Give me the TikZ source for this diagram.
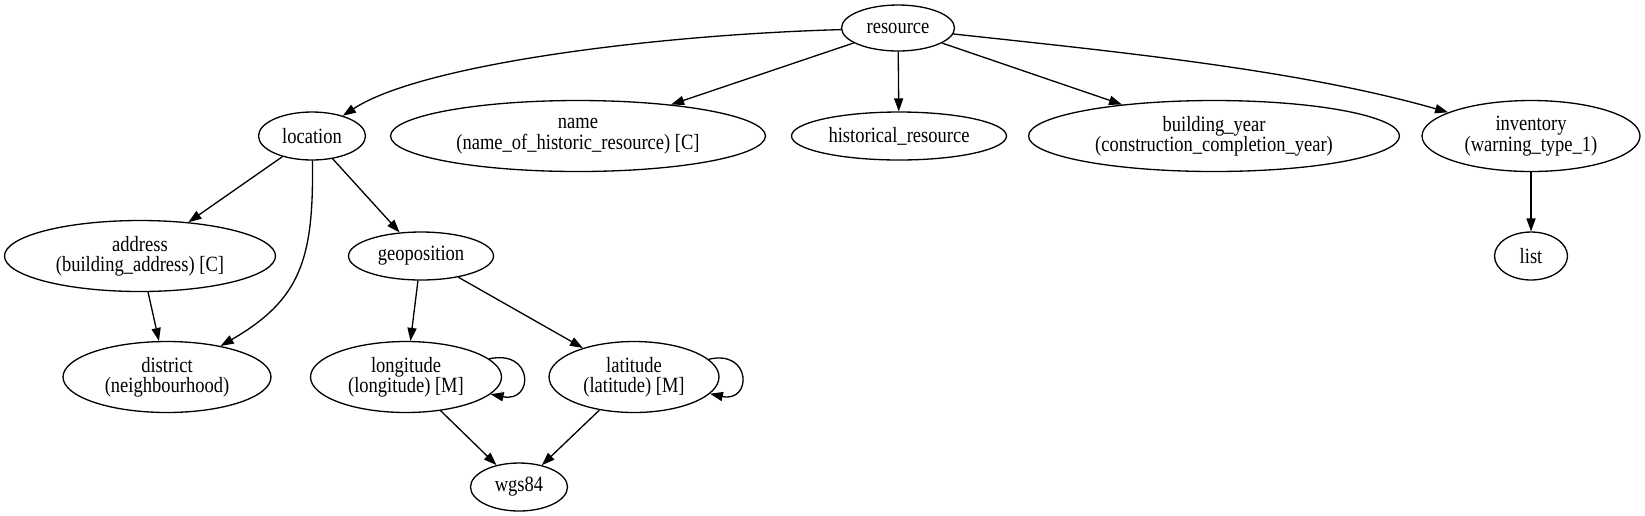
\documentclass[tikz,border=0pt]{standalone}
\usepackage{fontspec}
\setmainfont{Liberation Serif}[FakeStretch=0.85]
\usepackage{tikz}
\usetikzlibrary{arrows.meta, shapes.geometric}
\definecolor{mainBlack}{gray}{0}

\begin{document}
\begin{tikzpicture}[x=0.02cm, y=0.02cm, >={Triangle[length=7.4pt, width=5.2pt]},
    entity/.style={draw=mainBlack, ellipse, inner sep=0pt, line width=0.75pt, align=center, font=\fontsize{12.4}{11.6}\selectfont},
    link/.style={->, line width=0.75pt, mainBlack}]
    \useasboundingbox (0,0) rectangle (1645,-515);

    % Root
    \node[entity, minimum width=2.26cm, minimum height=0.92cm] (resource) at (898,-28) {resource};

    % First level
    \node[entity, minimum width=2.14cm, minimum height=0.96cm] (location) at (312,-136) {location};
    \node[entity, minimum width=7.5cm, minimum height=1.42cm] (name) at (578,-136) {name\\(name\_of\_historic\_resource) [C]};
    \node[entity, minimum width=4.3cm, minimum height=0.96cm] (histres) at (899,-136) {historical\_resource};
    \node[entity, minimum width=7.42cm, minimum height=1.42cm] (year) at (1214,-136) {building\_year\\(construction\_completion\_year)};
    \node[entity, minimum width=4.36cm, minimum height=1.42cm] (inventory) at (1531,-136) {inventory\\(warning\_type\_1)};

    % Second level
    \node[entity, minimum width=5.42cm, minimum height=1.42cm] (address) at (140,-256) {address\\(building\_address) [C]};
    \node[entity, minimum width=2.9cm, minimum height=0.96cm] (geopos) at (421,-256) {geoposition};
    \node[entity, minimum width=1.46cm, minimum height=0.96cm] (list) at (1531,-256) {list};

    % Third level
    \node[entity, minimum width=4.16cm, minimum height=1.42cm] (district) at (167,-377) {district\\(neighbourhood)};
    \node[entity, minimum width=3.82cm, minimum height=1.42cm] (longitude) at (406,-377) {longitude\\(longitude) [M]};
    \node[entity, minimum width=3.4cm, minimum height=1.42cm] (latitude) at (634,-377) {latitude\\(latitude) [M]};

    % Bottom
    \node[entity, minimum width=1.94cm, minimum height=0.96cm] (wgs) at (519,-487) {wgs84};

    % Edges from resource
    \draw[link] (resource) .. controls (650,-35) and (420,-65) .. (location);
    \draw[link] (resource) -- (name);
    \draw[link] (resource) -- (histres);
    \draw[link] (resource) -- (year);
    \draw[link] (resource) .. controls (1120,-52) and (1300,-70) .. (inventory);

    % Edges below
    \draw[link] (location) -- (address);
    \draw[link] (location) .. controls (314,-260) and (300,-300) .. (district);
    \draw[link] (location) -- (geopos);
    \draw[link] (address) -- (district);
    \draw[link] (geopos) -- (longitude);
    \draw[link] (geopos) -- (latitude);
    \draw[link] (longitude) -- (wgs);
    \draw[link] (latitude) -- (wgs);
    \draw[link] (inventory) -- (list);

    % Self loops
    \draw[link] (longitude) .. controls (534,-349) and (534,-403) .. (longitude);
    \draw[link] (latitude) .. controls (752,-349) and (752,-403) .. (latitude);
\end{tikzpicture}
\end{document}
